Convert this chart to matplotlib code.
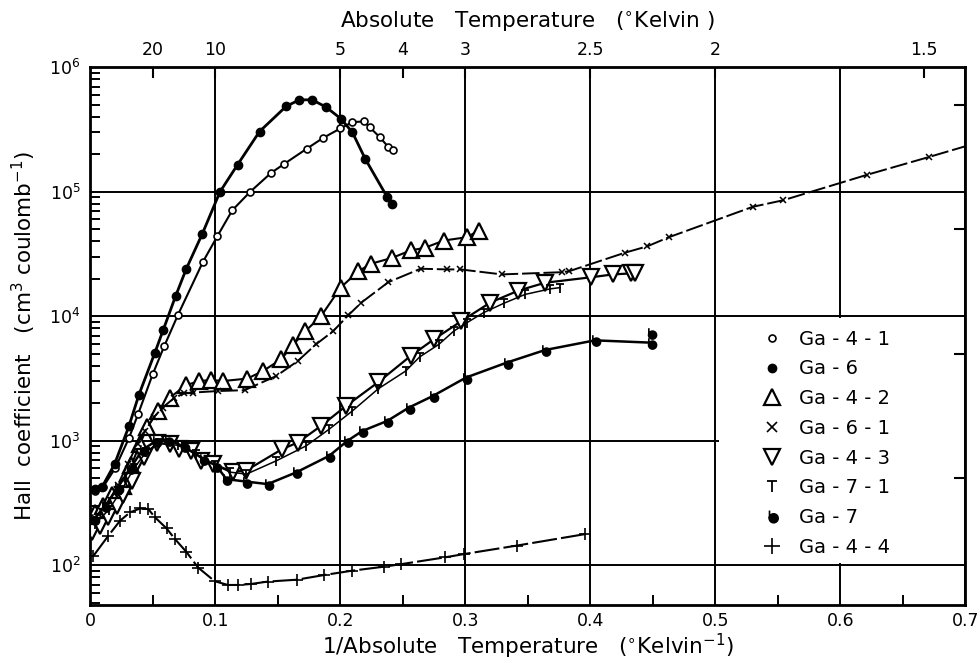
import numpy as np
import matplotlib.pyplot as plt
from matplotlib.path import Path
from matplotlib.patches import Rectangle
from matplotlib.lines import Line2D
from matplotlib.ticker import LogLocator, MultipleLocator, NullLocator, NullFormatter

plt.rcParams['font.family'] = ['DejaVu Sans']

# ---- data (x = 1/T in 1/K, y = Hall coefficient) ----
ga41_x = [0.004, 0.0101, 0.0199, 0.031, 0.0385, 0.05, 0.0592, 0.0701, 0.0903, 0.1018, 0.1137,
          0.1279, 0.1448, 0.1554, 0.1733, 0.1861, 0.2002, 0.2098, 0.2191, 0.2237, 0.2316, 0.2385, 0.2422]
ga41_y = [396, 422, 600, 1050, 1655, 3420, 5740, 10200, 27500, 44100, 71100,
          99800, 142000, 168000, 222000, 270000, 323000, 363000, 367000, 329000, 275000, 229000, 218000]

ga6_x = [0.004, 0.0093, 0.0195, 0.031, 0.039, 0.0518, 0.0584, 0.0683, 0.077, 0.0898, 0.1038, 0.1179,
         0.1355, 0.1567, 0.1673, 0.1775, 0.1886, 0.2006, 0.2098, 0.22, 0.2377, 0.2412]
ga6_y = [409, 422, 649, 1310, 2344, 5110, 7750, 14500, 24200, 46200, 99800, 165000,
         305000, 485000, 548000, 548000, 480000, 386000, 300000, 184000, 90300, 80000]

ga42_x = [0.004, 0.010, 0.0175, 0.026, 0.033, 0.0398, 0.0457, 0.0544, 0.0637, 0.0765, 0.0871, 0.097,
          0.1062, 0.1257, 0.1381, 0.1527, 0.162, 0.1721, 0.1846, 0.2003, 0.2146, 0.2245, 0.2417,
          0.2563, 0.2677, 0.2829, 0.3014, 0.3108]
ga42_y = [262, 299, 366, 432, 640, 940, 1290, 1740, 2220, 2790, 3020, 3080,
          3020, 3160, 3630, 4510, 5840, 7600, 10000, 17000, 23000, 26400, 29500,
          33800, 35500, 40600, 43200, 48800]

ga61_x = [0.004, 0.013, 0.022, 0.03, 0.038, 0.044, 0.051, 0.058, 0.067, 0.075, 0.0823, 0.1022, 0.1235,
          0.1488, 0.166, 0.1806, 0.1944, 0.2065, 0.217, 0.2385, 0.2643, 0.2855, 0.2962, 0.3293,
          0.3771, 0.383, 0.4277, 0.4457, 0.4627, 0.5299, 0.5543, 0.6215, 0.6707, 0.70]
ga61_y = [240, 300, 440, 650, 950, 1200, 1550, 1850, 2200, 2400, 2440, 2510, 2550,
          3310, 4370, 5950, 7600, 10200, 12900, 18800, 24100, 23800, 23800, 21700,
          22600, 23000, 32400, 36500, 43100, 75700, 85500, 137000, 190000, 232000]

ga43_x = [0.0015, 0.008, 0.0146, 0.0215, 0.0265, 0.0332, 0.043, 0.0531, 0.0637, 0.0712, 0.081, 0.089,
          0.0982, 0.1142, 0.1245, 0.1535, 0.166, 0.1846, 0.2045, 0.2305, 0.2563, 0.2749, 0.297,
          0.3201, 0.3426, 0.3639, 0.401, 0.4183, 0.4324, 0.4356]
ga43_y = [184, 205, 243, 300, 368, 476, 735, 957, 940, 867, 830, 690,
          649, 565, 575, 857, 968, 1315, 1900, 2960, 4800, 6530, 9160,
          12900, 16100, 18600, 20600, 21700, 22100, 22100]

ga71_x = [0.004, 0.015, 0.025, 0.035, 0.045, 0.055, 0.07, 0.085, 0.1, 0.112, 0.125, 0.1488, 0.1727,
          0.1912, 0.2098, 0.2305, 0.2523, 0.2635, 0.2789, 0.2908, 0.3014, 0.3147, 0.3307, 0.348,
          0.3679, 0.3758]
ga71_y = [215, 280, 400, 600, 820, 960, 920, 780, 640, 560, 540, 690, 910,
          1240, 1740, 2620, 3630, 4710, 5950, 7600, 8890, 10700, 12700, 15000,
          16600, 17000]

ga7_x = [0.003, 0.012, 0.022, 0.032, 0.042, 0.053, 0.062, 0.075, 0.09, 0.101, 0.109, 0.125, 0.142,
         0.1647, 0.1912, 0.2058, 0.2178, 0.2377, 0.255, 0.2741, 0.3006, 0.3333, 0.3639, 0.4037, 0.4489]
ga7_y = [235, 300, 420, 600, 850, 1000, 1020, 900, 720, 629, 492, 470, 449,
         557, 757, 1000, 1200, 1445, 1850, 2290, 3220, 4250, 5360, 6410, 6140]
ga7_extra_x = [0.4489]
ga7_extra_y = [7380]

ga44_x = [0.0026, 0.0146, 0.0239, 0.0319, 0.0398, 0.0465, 0.0518, 0.0611, 0.0677, 0.077, 0.0863, 0.0996,
          0.1102, 0.1182, 0.1288, 0.142, 0.1652, 0.1873, 0.2098, 0.2351, 0.2484, 0.2842, 0.2988,
          0.3413, 0.3958]
ga44_y = [119, 173, 228, 266, 286, 283, 243, 198, 163, 128, 96, 74.5,
          69.5, 69.5, 70.8, 74, 76.6, 83.6, 90.6, 97.5, 102, 116, 123,
          144, 178]

top_pos = [0.05, 0.1, 0.2, 0.25, 0.3, 0.4, 0.5, 1 / 1.5]
top_labels = ['20', '10', '5', '4', '3', '2.5', '2', '1.5']

# ---- custom markers ----
t_marker = Path([(-1, 1), (1, 1), (0, 1), (0, -1.2)],
                [Path.MOVETO, Path.LINETO, Path.MOVETO, Path.LINETO])
b_marker = Path.make_compound_path(
    Path.circle((0.2, -0.3), 0.75),
    Path([(-0.5, -0.3), (-0.5, 1.0)], [Path.MOVETO, Path.LINETO]))

fig = plt.figure(figsize=(9.8, 6.63), dpi=100)
ax = fig.add_axes([0.092, 0.0875, 0.893, 0.811])
ax.set_yscale('log')
ax.set_xlim(0, 0.7)
ax.set_ylim(48, 1e6)

ax.grid(True, which='major', color='black', lw=1.4)
# blank panel where the key sits
ax.add_patch(Rectangle((0.503, 104), 0.196, 9700 - 104, facecolor='white',
                       edgecolor='none', zorder=1.8))

k = dict(color='black', zorder=3)
ax.plot(ga41_x, ga41_y, '-', lw=1.5, marker='o', ms=5, mfc='white', mew=1.2, **k)
ax.plot(ga6_x, ga6_y, '-', lw=2.0, marker='o', ms=6, **k)
ax.plot(ga42_x, ga42_y, '-', lw=1.5, marker='^', ms=11, mfc='white', mew=1.6, **k)
ax.plot(ga61_x, ga61_y, ls=(0, (9, 2)), lw=1.4, marker='x', ms=5, mew=1.1,
        markevery=list(range(len(ga61_x) - 1)), **k)
ax.plot(ga43_x, ga43_y, '-', lw=1.6, marker='v', ms=11, mfc='white', mew=1.6, **k)
ax.plot(ga71_x, ga71_y, '-', lw=1.1, marker=t_marker, ms=7, mew=1.3, **k)
ax.plot(ga7_x, ga7_y, '-', lw=1.8, marker=b_marker, ms=8, mew=1.2, **k)
ax.plot(ga7_extra_x, ga7_extra_y, ls='none', marker=b_marker, ms=8, mew=1.2, **k)
ax.plot(ga44_x, ga44_y, ls=(0, (12, 2)), lw=1.5, marker='+', ms=9, mew=1.2, **k)

# ticks
ax.tick_params(which='major', length=0, labelsize=12.5)
ax.tick_params(axis='x', which='major', pad=5)
ax.tick_params(axis='y', which='major', pad=7)
ax.yaxis.set_minor_locator(LogLocator(base=10, subs=np.arange(2, 10)))
ax.yaxis.set_minor_formatter(NullFormatter())
ax.xaxis.set_minor_locator(MultipleLocator(0.05))
ax.tick_params(which='minor', direction='in', length=7, width=1.4, right=False, top=False)
ax.set_xticks(np.arange(0, 0.71, 0.1))
ax.set_xticklabels(['0', '0.1', '0.2', '0.3', '0.4', '0.5', '0.6', '0.7'])
for s in ax.spines.values():
    s.set_linewidth(2)

ax2 = ax.twinx()
ax2.set_yscale('log')
ax2.set_ylim(ax.get_ylim())
ax2.set_yticks([5e2, 5e3, 5e4, 5e5])
ax2.yaxis.set_minor_locator(NullLocator())
ax2.set_yticklabels([])
ax2.tick_params(direction='in', length=8, width=1.5)

sec = ax.secondary_xaxis('top')
sec.set_xticks(top_pos)
sec.set_xticklabels(top_labels)
sec.tick_params(direction='in', length=8, width=1.5, labelsize=12.5, pad=6)
sec.set_xlabel('Absolute   Temperature   ($^{\\circ}$Kelvin )', fontsize=15.5, labelpad=9)

ax.set_xlabel('1/Absolute   Temperature   ($^{\\circ}$Kelvin$^{-1}$)', fontsize=15.5, labelpad=1)
ax.set_ylabel('Hall  coefficient   (cm$^3$ coulomb$^{-1}$)', fontsize=15.5, labelpad=8)

handles = [
    Line2D([], [], ls='none', color='black', marker='o', ms=5, mfc='white', mew=1.2),
    Line2D([], [], ls='none', color='black', marker='o', ms=6),
    Line2D([], [], ls='none', color='black', marker='^', ms=11, mfc='white', mew=1.6),
    Line2D([], [], ls='none', color='black', marker='x', ms=7, mew=1.2),
    Line2D([], [], ls='none', color='black', marker='v', ms=11, mfc='white', mew=1.6),
    Line2D([], [], ls='none', color='black', marker=t_marker, ms=8, mew=1.3),
    Line2D([], [], ls='none', color='black', marker=b_marker, ms=9, mew=1.2),
    Line2D([], [], ls='none', color='black', marker='+', ms=11, mew=1.2),
]
labels = ['Ga - 4 - 1', 'Ga - 6', 'Ga - 4 - 2', 'Ga - 6 - 1', 'Ga - 4 - 3', 'Ga - 7 - 1',
          'Ga - 7', 'Ga - 4 - 4']
leg = ax.legend(handles, labels, loc='upper left', bbox_to_anchor=(0.757, 0.53),
                frameon=False, fontsize=14, labelspacing=0.55, handlelength=1.0,
                handletextpad=0.9, borderpad=0)
leg.set_zorder(5)

fig.savefig('out.png', dpi=100)
